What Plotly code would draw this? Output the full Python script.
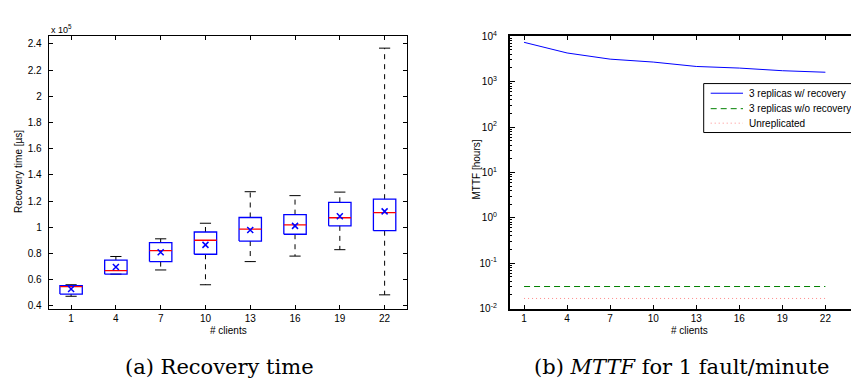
import plotly.graph_objects as go

# ---------------- data ----------------
clients = [1, 4, 7, 10, 13, 16, 19, 22]
# recovery time (x 10^5 us)
whisk_lo = [0.472, 0.641, 0.673, 0.560, 0.737, 0.779, 0.828, 0.483]
q1 = [0.489, 0.641, 0.737, 0.793, 0.894, 0.946, 1.010, 0.973]
med = [0.545, 0.668, 0.821, 0.900, 0.985, 1.018, 1.072, 1.111]
q3 = [0.553, 0.749, 0.882, 0.963, 1.074, 1.096, 1.190, 1.214]
whisk_hi = [0.560, 0.776, 0.911, 1.030, 1.271, 1.241, 1.268, 2.368]
mean = [0.528, 0.695, 0.808, 0.865, 0.978, 1.010, 1.084, 1.121]

# MTTF (hours)
mttf_rec = [7350, 4280, 3130, 2700, 2160, 1990, 1740, 1610]
mttf_norec = [0.0306, 0.0306, 0.0306, 0.0306, 0.0306, 0.0306, 0.0306, 0.0306]
mttf_unrep = [0.0167, 0.0167, 0.0167, 0.0167, 0.0167, 0.0167, 0.0167, 0.0167]
series_names = ["3 replicas w/ recovery", "3 replicas w/o recovery", "Unreplicated"]

left_yticks = [0.4, 0.6, 0.8, 1.0, 1.2, 1.4, 1.6, 1.8, 2.0, 2.2, 2.4]
log_major = [0.01, 0.1, 1, 10, 100, 1000, 10000]
log_major_text = ["10<sup>-2</sup>", "10<sup>-1</sup>", "10<sup>0</sup>", "10<sup>1</sup>",
                  "10<sup>2</sup>", "10<sup>3</sup>", "10<sup>4</sup>"]

W, H = 859, 379
HW = 0.75   # half box width (x units)
CW = 0.375  # half cap width

FONT = "Liberation Sans, Arial, sans-serif"
SERIF = "DejaVu Serif, serif"

fig = go.Figure()

# ---------- box plot built from the arrays ----------
wx, wy, cx, cy, bx, by, mx, my = [], [], [], [], [], [], [], []
for c, lo, a, m, b, hi in zip(clients, whisk_lo, q1, med, q3, whisk_hi):
    wx += [c, c, None, c, c, None]
    wy += [b, hi, None, a, lo, None]
    cx += [c - CW, c + CW, None, c - CW, c + CW, None]
    cy += [hi, hi, None, lo, lo, None]
    bx += [c - HW, c + HW, c + HW, c - HW, c - HW, None]
    by += [a, a, b, b, a, None]
    mx += [c - HW, c + HW, None]
    my += [m, m, None]

common = dict(xaxis="x", yaxis="y", showlegend=False, hoverinfo="skip", mode="lines")
fig.add_trace(go.Scatter(x=wx, y=wy, line=dict(color="black", width=1, dash="5px,5px"), **common))
fig.add_trace(go.Scatter(x=cx, y=cy, line=dict(color="black", width=1), **common))
fig.add_trace(go.Scatter(x=bx, y=by, line=dict(color="#0000ff", width=1.3), **common))
fig.add_trace(go.Scatter(x=mx, y=my, line=dict(color="#ff0000", width=1.3), **common))
fig.add_trace(go.Scatter(x=clients, y=mean, xaxis="x", yaxis="y", mode="markers",
                         marker=dict(symbol="x-thin", size=6, line=dict(color="#0000ff", width=1.5)),
                         showlegend=False, hoverinfo="skip"))

# ---------- MTTF ----------
styles = [dict(color="#0000ff", width=1),
          dict(color="#008000", width=1, dash="6px,4px"),
          dict(color="#ff8a8a", width=1, dash="1px,3px")]
for name, vals, st in zip(series_names, [mttf_rec, mttf_norec, mttf_unrep], styles):
    fig.add_trace(go.Scatter(x=clients, y=vals, xaxis="x2", yaxis="y2", mode="lines",
                             name=name, line=st, showlegend=False))
fig.add_trace(go.Scatter(x=[None], y=[None], xaxis="x2", yaxis="y3", showlegend=False,
                         hoverinfo="skip", mode="lines"))

minor_vals = [k * 10 ** e for e in range(-2, 4) for k in range(2, 10)]

ydom = [1 - 304 / H, 1 - 22 / H]
tickfont = dict(family=FONT, size=10, color="black")

fig.update_layout(
    width=W, height=H,
    margin=dict(l=0, r=0, t=0, b=0),
    paper_bgcolor="white", plot_bgcolor="white",
    font=dict(family=FONT, size=10, color="black"),
    showlegend=False,
    xaxis=dict(domain=[40.7 / W, 399 / W], range=[-0.5, 23.5], tickvals=clients,
               ticks="inside", ticklen=4, tickcolor="black", showline=True, linecolor="black",
               linewidth=1, mirror="ticks", showgrid=False, zeroline=False, tickfont=tickfont),
    yaxis=dict(domain=ydom, range=[0.378, 2.459], tickvals=left_yticks,
               ticktext=[f"{v:g}" for v in left_yticks],
               ticks="inside", ticklen=4, tickcolor="black", showline=True, linecolor="black",
               linewidth=1, mirror="ticks", showgrid=False, zeroline=False, tickfont=tickfont,
               ticklabelstandoff=4),
    xaxis2=dict(domain=[501.7 / W, 1.0], range=[0, 24.9], tickvals=clients, anchor="y2",
                ticks="inside", ticklen=4, tickcolor="black", showline=True, linecolor="black",
                linewidth=1.6, mirror="ticks", showgrid=False, zeroline=False, tickfont=tickfont),
    yaxis2=dict(domain=ydom, type="log", range=[-2, 4], anchor="x2",
                tickvals=log_major, ticktext=log_major_text,
                ticks="inside", ticklen=5, tickcolor="black", showline=True, linecolor="black",
                linewidth=1.6, mirror=False, showgrid=False, zeroline=False, tickfont=tickfont,
                ticklabelstandoff=9,
                minor=dict(ticks="inside", ticklen=2.5, tickcolor="black", tickvals=minor_vals)),
    yaxis3=dict(overlaying="y2", side="right", anchor="x2", type="log", range=[-2, 4],
                tickvals=log_major, showticklabels=False, ticks="inside", ticklen=5,
                tickcolor="black", showline=False, showgrid=False, zeroline=False,
                minor=dict(ticks="inside", ticklen=2.5, tickcolor="black", tickvals=minor_vals)),
)

# ---------- manual legend (paper coordinates) ----------
shapes = [dict(type="rect", xref="paper", yref="paper",
               x0=695.7 / W, x1=857.7 / W, y0=1 - 121.7 / H, y1=1 - 71 / H,
               line=dict(color="black", width=1), fillcolor="white", layer="above")]
rows_y = [81, 97, 112]
ann = []
for name, st, ry in zip(series_names, styles, rows_y):
    shapes.append(dict(type="line", xref="paper", yref="paper",
                       x0=702.7 / W, x1=735 / W, y0=1 - ry / H, y1=1 - ry / H,
                       line=dict(color=st["color"], width=st["width"],
                                 dash=st.get("dash", "solid")), layer="above"))
    ann.append(dict(text=name, x=739 / W, y=1 - ry / H, xanchor="left", yanchor="middle",
                    font=dict(size=10)))

ann += [
    dict(text="x 10<sup>5</sup>", x=41 / W, y=1 - 14 / H, xanchor="left", yanchor="middle",
         font=dict(size=9)),
    dict(text="Recovery time [µs]", x=11 / W, y=1 - 162.5 / H, textangle=-90,
         xanchor="center", yanchor="middle", font=dict(size=10)),
    dict(text="# clients", x=220 / W, y=1 - 327 / H, xanchor="center", yanchor="middle",
         font=dict(size=10)),
    dict(text="MTTF [hours]", x=469 / W, y=1 - 160 / H, textangle=-90,
         xanchor="center", yanchor="middle", font=dict(size=10)),
    dict(text="# clients", x=681 / W, y=1 - 327 / H, xanchor="center", yanchor="middle",
         font=dict(size=10)),
    dict(text="(a) Recovery time", x=211.7 / W, y=1 - 364 / H, xanchor="center",
         yanchor="middle", font=dict(family=SERIF, size=21)),
    dict(text="(b) <i>MTTF</i> for 1 fault/minute", x=673 / W, y=1 - 364 / H,
         xanchor="center", yanchor="middle", font=dict(family=SERIF, size=21)),
]
for a in ann:
    a.update(xref="paper", yref="paper", showarrow=False)
    a["font"] = dict(family=a["font"].get("family", FONT), size=a["font"]["size"], color="black")
fig.update_layout(annotations=ann, shapes=shapes)

fig.write_html("out.html")
